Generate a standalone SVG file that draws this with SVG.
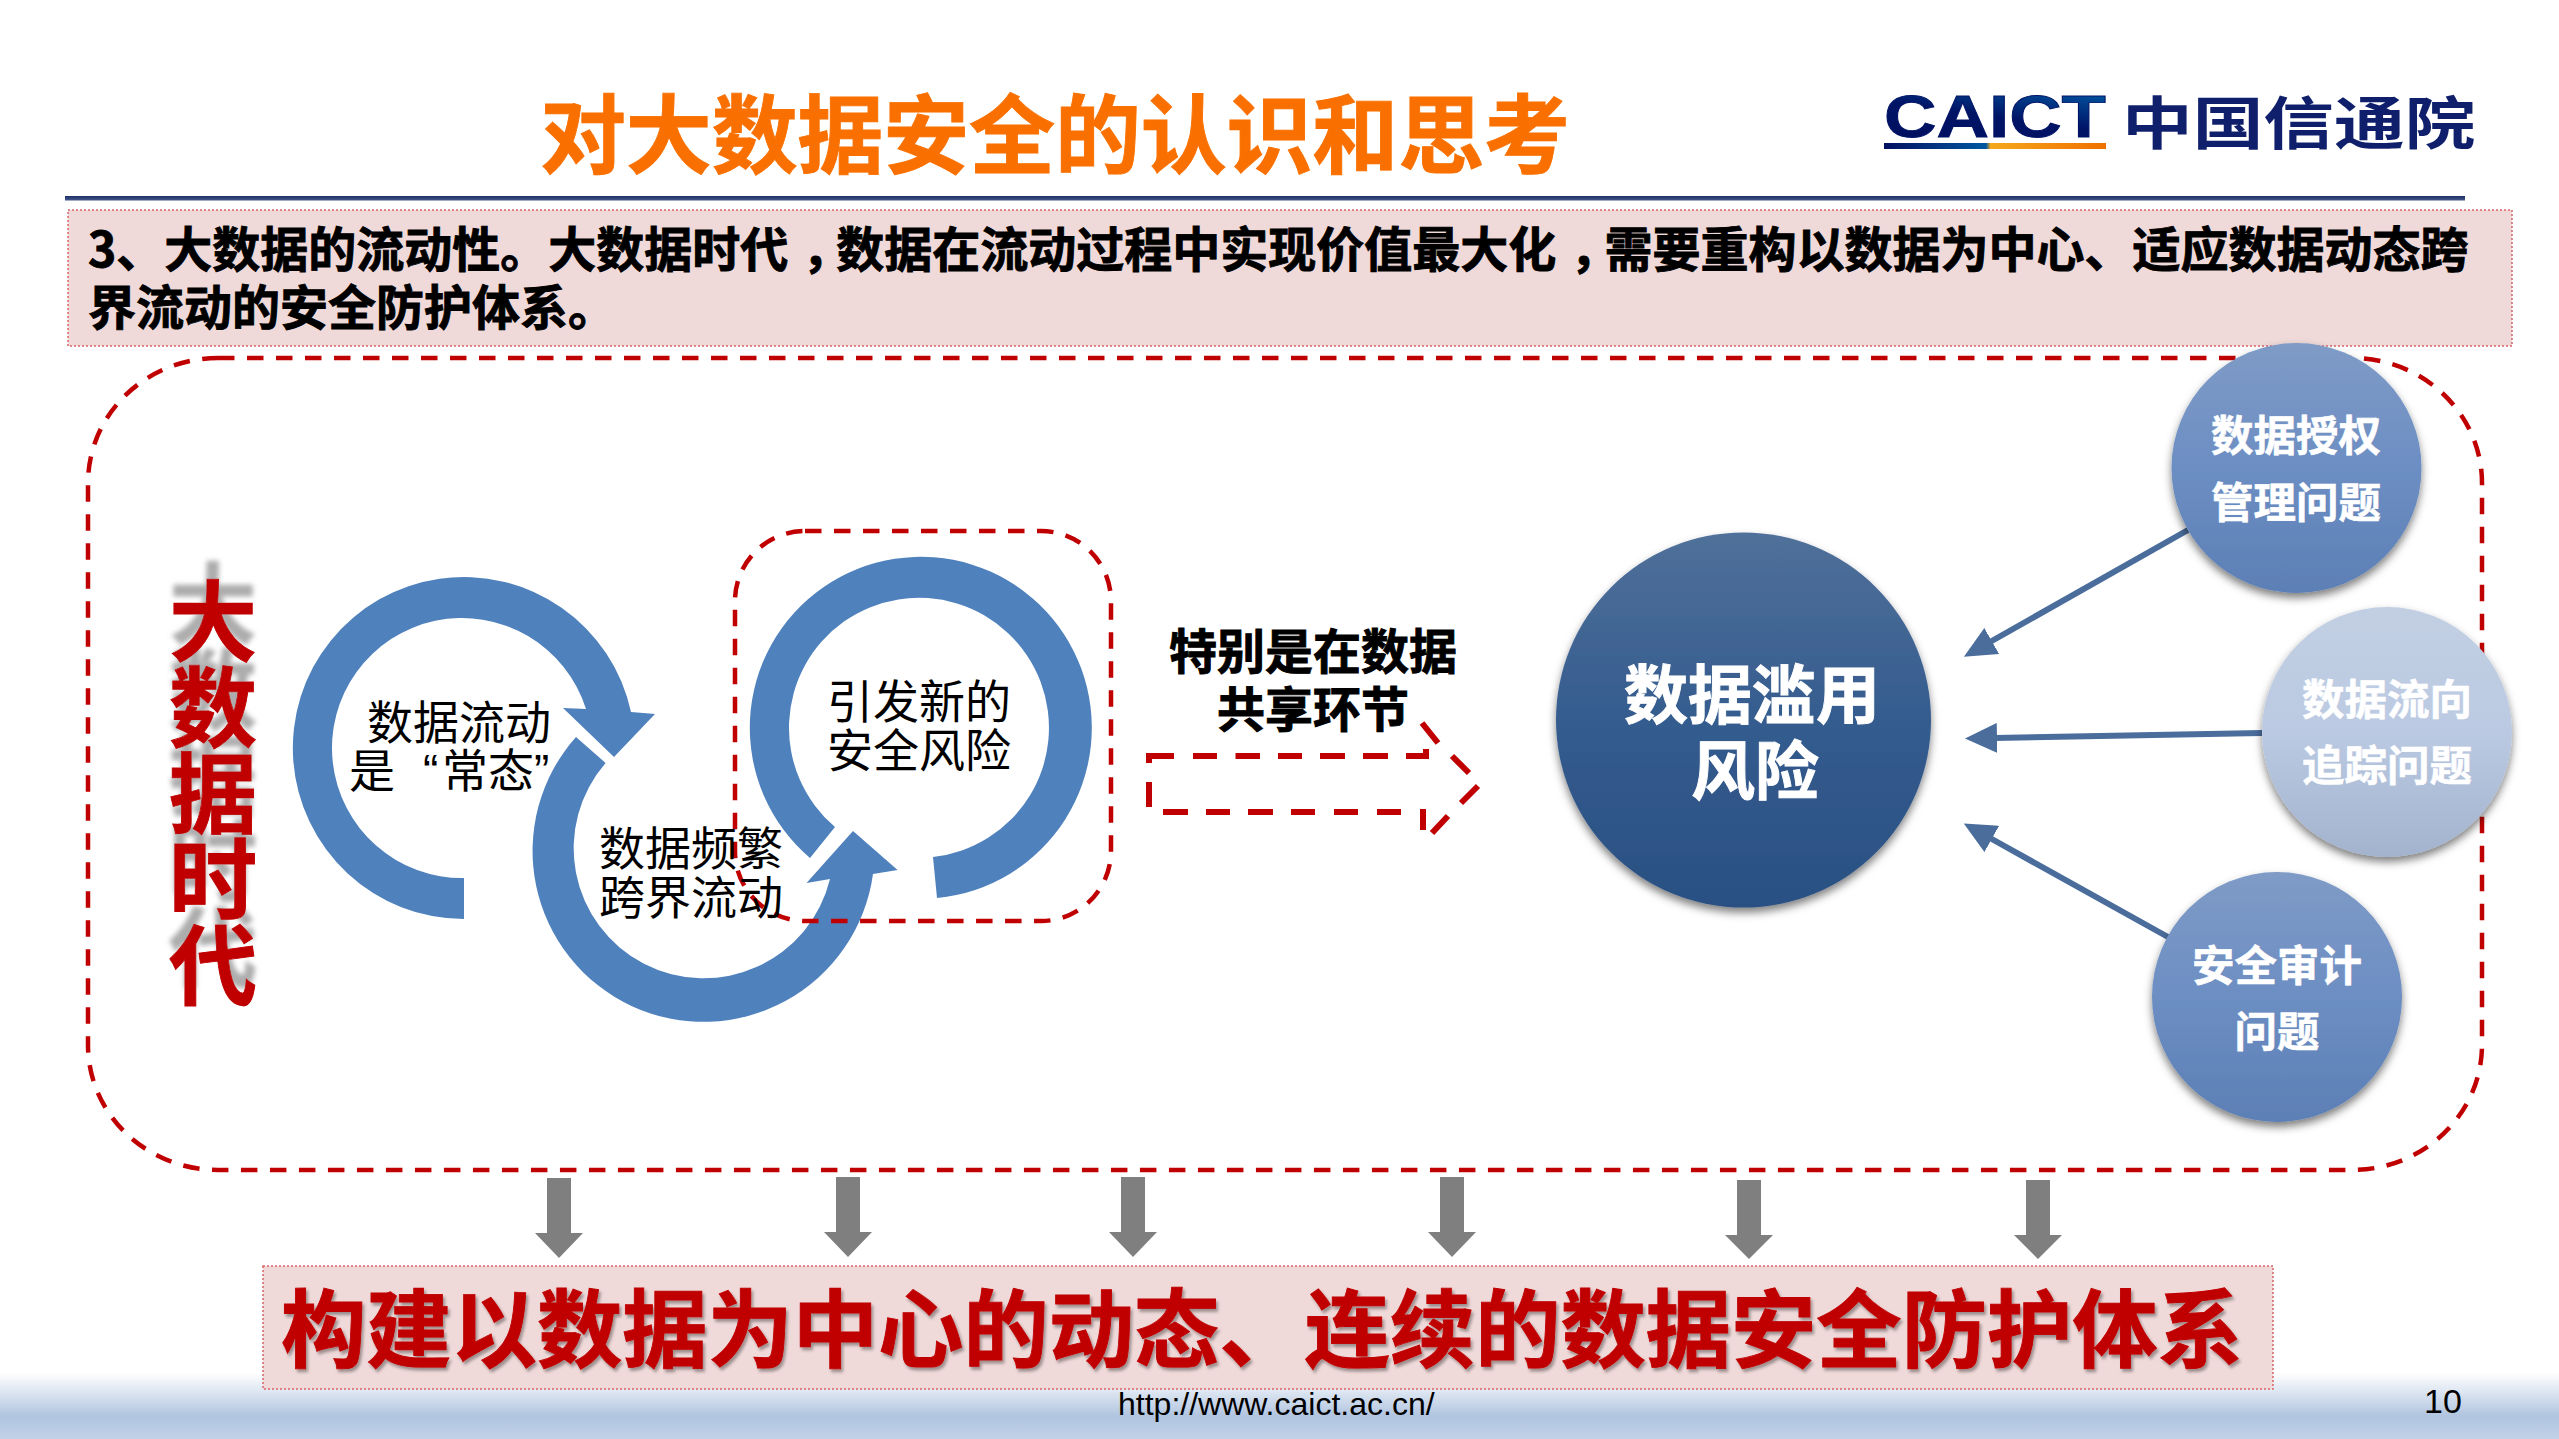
<svg xmlns="http://www.w3.org/2000/svg" width="2559" height="1439" viewBox="0 0 2559 1439">
<style>
text{font-family:"Noto Sans CJK SC","Liberation Sans",sans-serif}
.b{font-weight:700;stroke-width:.9}
.m{text-anchor:middle}
.pink{fill:#EFD9D9;stroke:#D9646A;stroke-width:1.5;stroke-dasharray:2 2}
.dash{fill:none;stroke:#C00000;stroke-width:4.5;stroke-dasharray:16.5 12.5}
.ring{fill:#4F81BD}
.ringt{font-size:46px;fill:#000}
.wt{fill:#fff;stroke:#fff;stroke-width:.6;font-weight:700;font-size:42.5px;text-anchor:middle}
.conn{stroke:#4A6D9C;stroke-width:6;fill:none;marker-end:url(#ah)}
.down{fill:#7F7F7F}
</style>
<defs>
<linearGradient id="foot" x1="0" y1="0" x2="0" y2="1"><stop offset="0" stop-color="#fff"/><stop offset=".66" stop-color="#B0C4DF"/><stop offset="1" stop-color="#C2D2E8"/></linearGradient>
<linearGradient id="rule" x1="0" y1="0" x2="0" y2="1"><stop offset="0" stop-color="#1F2F66"/><stop offset="1" stop-color="#44588C"/></linearGradient>
<linearGradient id="big" x1="0" y1="0" x2="0" y2="1"><stop offset="0" stop-color="#50709A"/><stop offset=".5" stop-color="#345C8E"/><stop offset="1" stop-color="#2A5082"/></linearGradient>
<linearGradient id="sm" x1="0" y1="0" x2="0" y2="1"><stop offset="0" stop-color="#7F9BC6"/><stop offset=".5" stop-color="#6C8EC3"/><stop offset="1" stop-color="#5C7FB5"/></linearGradient>
<linearGradient id="pale" x1="0" y1="0" x2="0" y2="1"><stop offset="0" stop-color="#C2CFE3"/><stop offset=".5" stop-color="#BBCAE2"/><stop offset="1" stop-color="#A3B3CE"/></linearGradient>
<linearGradient id="logo" x1="1" y1="0" x2=".55" y2="1"><stop offset="0" stop-color="#0066B0"/><stop offset=".6" stop-color="#001466"/><stop offset="1" stop-color="#001060"/></linearGradient>
<linearGradient id="bar" x1="0" y1="0" x2="1" y2="0"><stop offset="0" stop-color="#001060"/><stop offset=".46" stop-color="#0058A0"/><stop offset=".48" stop-color="#F5A81C"/><stop offset="1" stop-color="#F07000"/></linearGradient>
<filter id="sh" x="-20%" y="-20%" width="140%" height="140%"><feDropShadow dx="0" dy="5" stdDeviation="4" flood-color="#000" flood-opacity=".5"/></filter>
<filter id="ts" x="-5%" y="-20%" width="110%" height="140%"><feDropShadow dx="2" dy="3" stdDeviation="1.5" flood-color="#000" flood-opacity=".35"/></filter>
<filter id="refl" x="-20%" y="-10%" width="140%" height="120%"><feDropShadow dx="0" dy="-18" stdDeviation="2.5" flood-color="#808080" flood-opacity=".65"/></filter>
<marker id="ah" markerUnits="userSpaceOnUse" markerWidth="32" markerHeight="30" refX="2" refY="15" orient="auto"><path d="M0,0L32,15L0,30Z" fill="#4A6D9C"/></marker>
</defs>

<rect id="footer-band" x="0" y="1373" width="2559" height="66" fill="url(#foot)"/>

<g id="title">
<text class="b" x="540" y="167" font-size="86" fill="#F97000" stroke="#F97000" textLength="1030" lengthAdjust="spacing">对大数据安全的认识和思考</text>
</g>
<g id="logo-mark">
<text class="b" x="1884" y="137" font-size="60" fill="url(#logo)" stroke="#001466" stroke-width="1.5" textLength="222" lengthAdjust="spacingAndGlyphs" style="font-family:'Liberation Sans',sans-serif">CAICT</text>
<rect x="1884" y="143" width="222" height="6" fill="url(#bar)"/>
<text class="b" transform="translate(2122,144) scale(1.24,1)" font-size="57" fill="#0F1F6B">中国信通院</text>
</g>
<rect id="title-rule" x="65" y="196" width="2400" height="4.5" fill="url(#rule)"/>

<g id="intro">
<rect class="pink" x="68" y="210" width="2444" height="136"/>
<text class="b" x="88" y="267" font-size="48" fill="#000" stroke="#000">3、大数据的流动性。大数据时代<tspan dx="14">&#xFF0C;</tspan><tspan dx="-14">数据在流动过程中实现价值最大化</tspan><tspan dx="14">&#xFF0C;</tspan><tspan dx="-14">需要重构以数据为中心、适应数据动态跨</tspan></text>
<text class="b" x="88" y="325" font-size="48" fill="#000" stroke="#000">界流动的安全防护体系。</text>
</g>

<rect id="outer-frame" class="dash" x="88" y="358" width="2394" height="812" rx="130" ry="125"/>

<g id="era-label">
<text class="b m" font-size="88" fill="#C00000" stroke="#C00000" filter="url(#refl)" x="213 213 213 213 213" y="654 740 826 912 998">大数据时代</text>
</g>

<g id="cycle">
<path id="ring-1" class="ring" d="M464,919A171,171 0 1 1 631,712L655,714L614,757L563,708L586,709A130,130 0 1 0 464,878Z"/>
<path id="ring-2" class="ring" d="M576,737A171,171 0 1 0 873,874L897.6,870L853,831L806.5,883L830,879A130,130 0 1 1 605.6,763Z"/>
<path id="ring-3" class="ring" d="M810,858A171,171 0 1 1 937,898L933,857A130,130 0 1 0 835,827Z"/>
</g>
<rect id="risk-frame" class="dash" x="735" y="531" width="376" height="390" rx="70" ry="70"/>
<g id="cycle-labels">
<text class="ringt" x="367" y="739">数据流动</text>
<text class="ringt" x="349" y="787">是<tspan x="423" style="font-family:'Liberation Sans',sans-serif">“</tspan><tspan x="442">常态</tspan><tspan x="534" style="font-family:'Liberation Sans',sans-serif">”</tspan></text>
<text class="ringt" x="599" y="865">数据频繁</text>
<text class="ringt" x="599" y="914">跨界流动</text>
<text class="ringt" x="827" y="718">引发新的</text>
<text class="ringt" x="827" y="767">安全风险</text>
</g>

<g id="share-step">
<path fill="none" stroke="#C00000" stroke-width="6" d="M1149,763V756H1174M1193,756H1217M1235.500,756H1260M1278,756H1302M1320,756H1345M1363,756H1388M1406,756H1426V749M1149,782V807M1163,812H1188M1206,812H1230M1248,812H1273M1291,812H1315M1334,812H1358M1377,812H1401M1423,809V830M1422,723L1438,743M1452,756L1469,773M1478,786L1461,803M1448,816L1432,833"/>
<text class="b m" x="1313" y="669" font-size="48" fill="#000" stroke="#000">特别是在数据</text>
<text class="b m" x="1313" y="727" font-size="48" fill="#000" stroke="#000">共享环节</text>
</g>

<g id="connectors">
<line class="conn" x1="2188" y1="530" x2="1990" y2="642"/>
<line class="conn" x1="2262" y1="733" x2="1995" y2="738"/>
<line class="conn" x1="2168" y1="937" x2="1990" y2="838"/>
<path class="down" d="M547,1178H571V1233H583L559,1258L535,1233H547Z"/>
<path class="down" d="M836,1177H860V1232H872L848,1257L824,1232H836Z"/>
<path class="down" d="M1121,1177H1145V1232H1157L1133,1257L1109,1232H1121Z"/>
<path class="down" d="M1440,1177H1464V1232H1476L1452,1257L1428,1232H1440Z"/>
<path class="down" d="M1737,1180H1761V1235H1773L1749,1259L1725,1235H1737Z"/>
<path class="down" d="M2026,1180H2050V1235H2062L2038,1259L2014,1235H2026Z"/>
</g>

<g id="node-abuse">
<circle cx="1743.500" cy="720" r="187.500" fill="url(#big)" filter="url(#sh)"/>
<text class="b m" x="1752" y="718" font-size="64" fill="#fff" stroke="#fff">数据滥用</text>
<text class="b m" x="1755" y="794" font-size="64" fill="#fff" stroke="#fff">风险</text>
</g>
<g id="node-auth">
<circle cx="2296.500" cy="468" r="125" fill="url(#sm)" filter="url(#sh)"/>
<text class="wt" x="2296" y="451">数据授权</text>
<text class="wt" x="2296" y="518">管理问题</text>
</g>
<g id="node-trace">
<circle cx="2387" cy="732" r="125" fill="url(#pale)" filter="url(#sh)"/>
<text class="wt" x="2387" y="715">数据流向</text>
<text class="wt" x="2387" y="781">追踪问题</text>
</g>
<g id="node-audit">
<circle cx="2277" cy="997" r="125" fill="url(#sm)" filter="url(#sh)"/>
<text class="wt" x="2277" y="981">安全审计</text>
<text class="wt" x="2277" y="1047">问题</text>
</g>

<g id="conclusion">
<rect class="pink" x="263" y="1266" width="2010" height="123"/>
<text class="b" x="281" y="1361" font-size="85.300" fill="#C00000" stroke="#C00000" filter="url(#ts)">构建以数据为中心的动态、连续的数据安全防护体系</text>
</g>

<g id="footer">
<text x="1118" y="1415" font-size="32" fill="#000" style="font-family:'Liberation Sans',sans-serif">http://www.caict.ac.cn/</text>
<text x="2424" y="1413" font-size="34" fill="#000" style="font-family:'Liberation Sans',sans-serif">10</text>
</g>
</svg>
